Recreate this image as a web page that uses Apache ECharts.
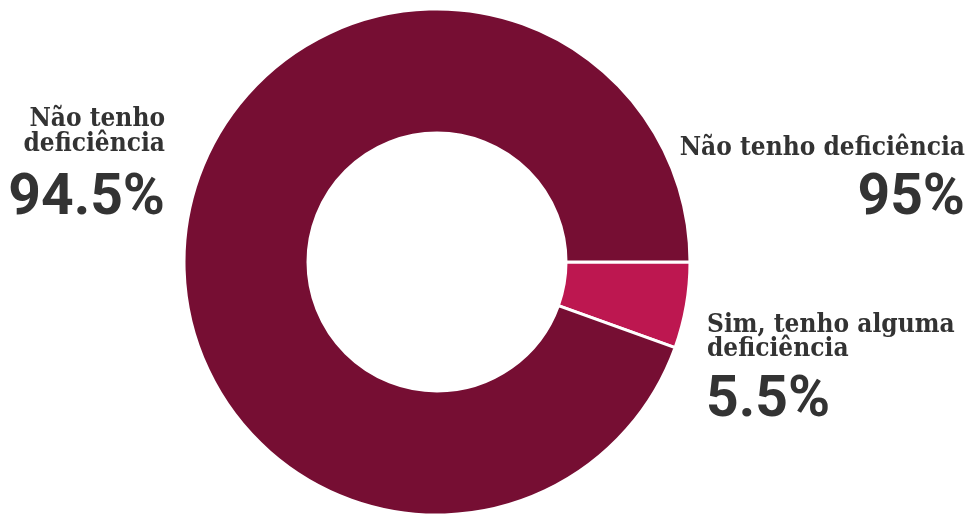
<!DOCTYPE html>
<html>
<head>
<meta charset="utf-8">
<script src="https://cdn.jsdelivr.net/npm/echarts@6/dist/echarts.min.js"></script>
<style>html,body{margin:0;padding:0;background:#fff}#c{width:971px;height:514px}</style>
</head>
<body>
<div id="c"></div>
<script>
const categories = ['Sim, tenho alguma deficiência', 'Não tenho deficiência'];
const values = [5.5, 94.5];
const colors = ['#BD1750', '#760E33'];
const extraLabel = { name: 'Não tenho deficiência', value: '95%' };

const slab = '"Roboto Slab", "DejaVu Serif Condensed", "DejaVu Serif", serif';
const sans = 'Roboto, "Noto Sans", sans-serif';
const txtColor = '#333333';

const chart = echarts.init(document.getElementById('c'), null, { renderer: 'canvas' });
chart.setOption({
  animation: false,
  series: [{
    type: 'pie',
    center: [437, 262],
    radius: [129, 253],
    startAngle: 0,
    clockwise: true,
    label: { show: false },
    labelLine: { show: false },
    emphasis: { disabled: true },
    itemStyle: { borderColor: '#fff', borderWidth: 3 },
    data: categories.map((c, i) => ({ name: c, value: values[i], itemStyle: { color: colors[i] } }))
  }],
  graphic: [
    { type: 'text', x: 165, y: 132, style: { text: 'Não tenho\ndeficiência', font: 'bold 26px ' + slab, fill: txtColor, align: 'right', verticalAlign: 'middle', lineHeight: 25 } },
    { type: 'text', x: 165, y: 200, style: { text: values[1] + '%', font: 'bold 57px ' + sans, fill: txtColor, align: 'right', verticalAlign: 'middle' } },
    { type: 'text', x: 965, y: 148, style: { text: extraLabel.name, font: 'bold 26px ' + slab, fill: txtColor, align: 'right', verticalAlign: 'middle' } },
    { type: 'text', x: 965, y: 200, style: { text: extraLabel.value, font: 'bold 57px ' + sans, fill: txtColor, align: 'right', verticalAlign: 'middle' } },
    { type: 'text', x: 707, y: 337, style: { text: 'Sim, tenho alguma\ndeficiência', font: 'bold 26px ' + slab, fill: txtColor, align: 'left', verticalAlign: 'middle', lineHeight: 24 } },
    { type: 'text', x: 706, y: 402, style: { text: values[0] + '%', font: 'bold 57px ' + sans, fill: txtColor, align: 'left', verticalAlign: 'middle' } }
  ]
});
</script>
</body>
</html>
